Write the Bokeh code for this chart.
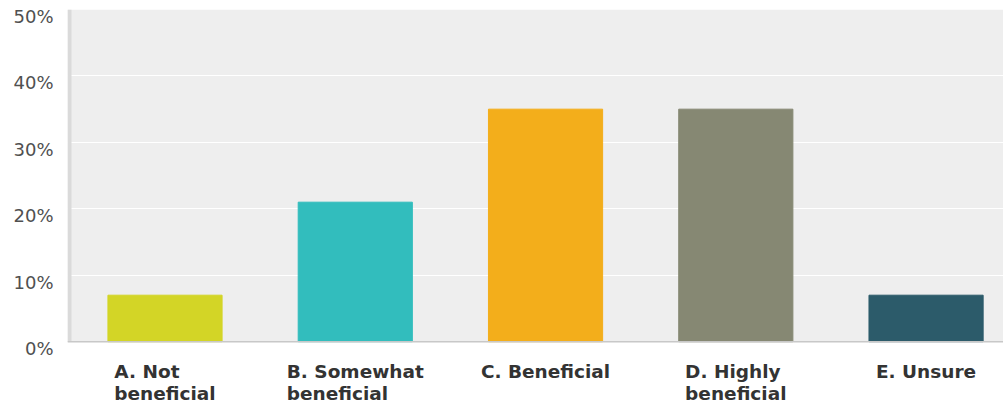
from bokeh.plotting import figure
from bokeh.models import (ColumnDataSource, Range1d, LinearAxis, FixedTicker,
                          PrintfTickFormatter, BoxAnnotation)
from bokeh.core.properties import value
from bokeh.embed import file_html
from bokeh.resources import INLINE

categories = ["A. Not\nbeneficial", "B. Somewhat\nbeneficial", "C. Beneficial",
              "D. Highly\nbeneficial", "E. Unsure"]
percents = [7, 21, 35, 35, 7]
colors = ["#d3d526", "#32bdbd", "#f3ae1b", "#868873", "#2c5b6a"]
y_ticks = [0, 10, 20, 30, 40, 50]

xs = list(range(len(categories)))
src = ColumnDataSource(dict(x=xs, top=percents, color=colors, label=categories))

X0, X1 = -0.5125, 4.407
Y0, Y1 = -9.3, 50.0

p = figure(width=1003, height=403, output_backend="svg", toolbar_location=None,
           x_range=Range1d(X0, X1), y_range=Range1d(Y0, Y1),
           min_border_left=67, min_border_right=0, min_border_top=9,
           min_border_bottom=0, border_fill_color="white",
           background_fill_color="white", outline_line_color=None)
p.xaxis.visible = False
p.yaxis.visible = False
p.xgrid.visible = False
p.ygrid.ticker = FixedTicker(ticks=[10, 20, 30, 40])
p.ygrid.grid_line_color = "white"
p.ygrid.grid_line_width = 1

# offset range so tick labels sit slightly below their gridlines
off = 7 / (394 / (Y1 - Y0))
p.extra_y_ranges = {"lab": Range1d(Y0 + off, Y1 + off)}
ax = LinearAxis(y_range_name="lab", ticker=FixedTicker(ticks=y_ticks),
                formatter=PrintfTickFormatter(format="%d%%"))
ax.axis_line_color = None
ax.major_tick_line_color = None
ax.minor_tick_line_color = None
ax.major_tick_out = 0
ax.major_tick_in = 0
ax.major_label_standoff = 14
ax.major_label_text_font = "DejaVu Sans"
ax.major_label_text_font_size = "18px"
ax.major_label_text_color = "#505050"
p.add_layout(ax, "left")

# grey plotting area
p.add_layout(BoxAnnotation(bottom=0, fill_color="#eeeeee", fill_alpha=1,
                           line_color=None, level="image"))
# left edge line
p.add_layout(BoxAnnotation(left=X0, right=X0 + 4 / 190.25, bottom=0, top=Y1,
                           fill_color="#dadada", fill_alpha=1, line_color=None,
                           level="underlay"))

p.vbar(x="x", top="top", bottom=0, width=0.6, color="color", source=src)

# baseline
p.segment(x0=[X0], y0=[0], x1=[X1], y1=[0], line_color="#c8c8c8", line_width=1.5)

p.text(x="x", y=-2.9, text="label", source=src, anchor=value("top_center"),
       text_align="left", text_font=value("DejaVu Sans"), text_font_style="bold",
       text_font_size="18.5px", text_color="#333333", text_line_height=1.05)

open("out.html", "w").write(file_html(p, INLINE))
